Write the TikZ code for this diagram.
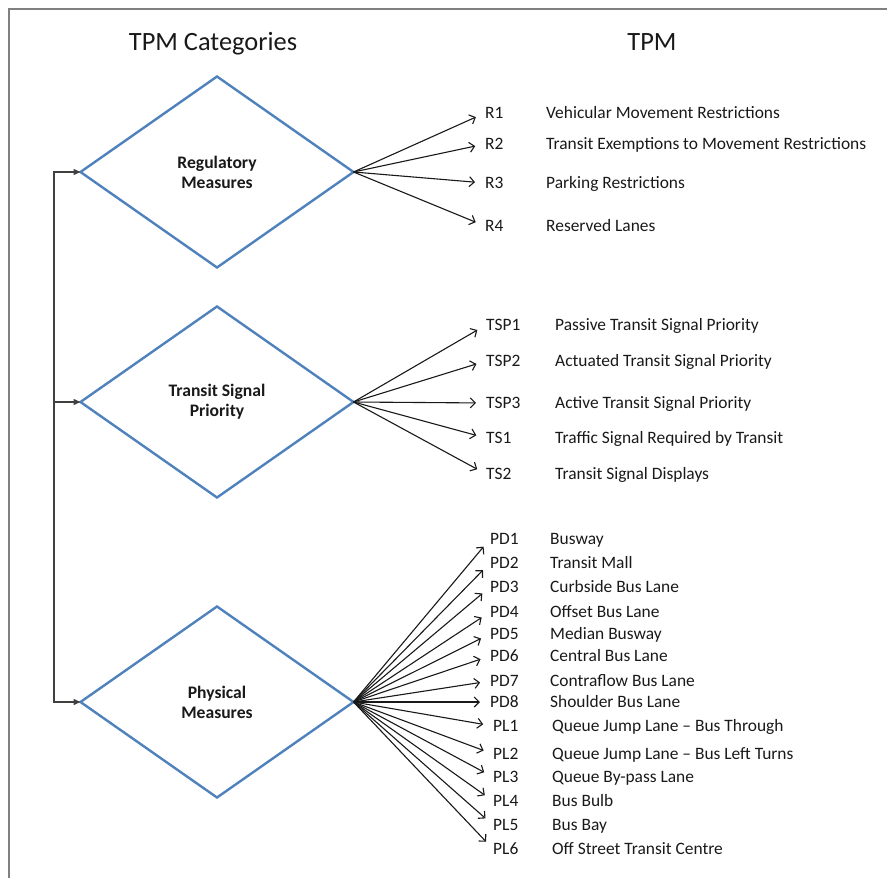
\documentclass[tikz,border=0pt]{standalone}
\usepackage{fontspec}
\setmainfont{Carlito}
\usetikzlibrary{shapes.geometric,arrows.meta}
\definecolor{dblue}{RGB}{79,129,189}
\definecolor{txt}{RGB}{25,25,25}
\begin{document}
\begin{tikzpicture}[x=1pt,y=-1pt,
  cat/.style={diamond, draw=dblue, line width=2.4pt, minimum width=273pt, minimum height=191pt,
    inner sep=0pt, outer sep=0pt, align=center, font=\fontsize{17.6}{20}\selectfont\bfseries, text=txt},
  code/.style={anchor=west, inner sep=0pt, font=\fontsize{17.4}{20}\selectfont, text=txt},
  desc/.style={anchor=base west, inner sep=0pt, font=\fontsize{17.4}{20}\selectfont, text=txt},
  ttl/.style={anchor=base, inner sep=0pt, font=\fontsize{26.4}{30}\selectfont, text=txt},
  item/.style={draw=black!90, line width=1.1pt, -{Straight Barb[length=5pt,width=10pt]}, shorten >=10pt},
  feed/.style={draw=black!75, line width=1.4pt},
  feedarrow/.style={feed, -{Triangle[length=7pt,width=6pt]}},
]
\useasboundingbox (0,0) rectangle (887,878);
\draw[black!50, line width=2pt] (887,9) -- (9,9) -- (9,878);

\node[ttl] (t1) at (213,50) {TPM Categories};
\node[ttl] (t2) at (652,50) {TPM};

\node[cat] (d1) at (217,172) {Regulatory\\Measures};
\node[cat] (d2) at (217,402) {Transit Signal\\Priority};
\node[cat] (d3) at (217,702) {Physical\\Measures};

\coordinate (s1) at (54,172);
\coordinate (s3) at (54,702);
\draw[feedarrow] (s3) -- (s1) -- (d1.west);
\draw[feedarrow] (s1) -- (s3) -- (d3.west);
\draw[feedarrow] (s1 |- d2.west) -- (d2.west);

\foreach \yy/\c/\t [count=\i] in {113/R1/Vehicular Movement Restrictions,
    144/R2/Transit Exemptions to Movement Restrictions,
    183/R3/Parking Restrictions,
    226/R4/Reserved Lanes}{
  \node[code] (r\i) at (485,\yy) {\c};
  \node[desc] (rd\i) at (546,0 |- r\i.base) {\t};
  \draw[item] (d1.east) -- (r\i.west);
}

\foreach \yy/\c/\t [count=\i] in {325/TSP1/Passive Transit Signal Priority,
    361/TSP2/Actuated Transit Signal Priority,
    403/TSP3/Active Transit Signal Priority,
    438/TS1/Traffic Signal Required by Transit,
    474/TS2/Transit Signal Displays}{
  \node[code] (ts\i) at (486,\yy) {\c};
  \node[desc] (tsd\i) at (555,0 |- ts\i.base) {\t};
  \draw[item] (d2.east) -- (ts\i.west);
}

\foreach \yy/\c/\t [count=\i] in {539/PD1/Busway,
    563/PD2/Transit Mall,
    587/PD3/Curbside Bus Lane,
    612/PD4/Offset Bus Lane,
    634/PD5/Median Busway,
    656/PD6/Central Bus Lane,
    681/PD7/Contraflow Bus Lane,
    702/PD8/Shoulder Bus Lane}{
  \node[code] (pd\i) at (490,\yy) {\c};
  \node[desc] (pdd\i) at (550,0 |- pd\i.base) {\t};
  \draw[item] (d3.east) -- (pd\i.west);
}

\foreach \yy/\c/\t [count=\i] in {726/PL1/Queue Jump Lane -- Bus Through,
    754/PL2/Queue Jump Lane -- Bus Left Turns,
    777/PL3/Queue By-pass Lane,
    801/PL4/Bus Bulb,
    825/PL5/Bus Bay,
    849/PL6/Off Street Transit Centre}{
  \node[code] (pl\i) at (493,\yy) {\c};
  \node[desc] (pld\i) at (552,0 |- pl\i.base) {\t};
  \draw[item] (d3.east) -- (pl\i.west);
}
\end{tikzpicture}
\end{document}
